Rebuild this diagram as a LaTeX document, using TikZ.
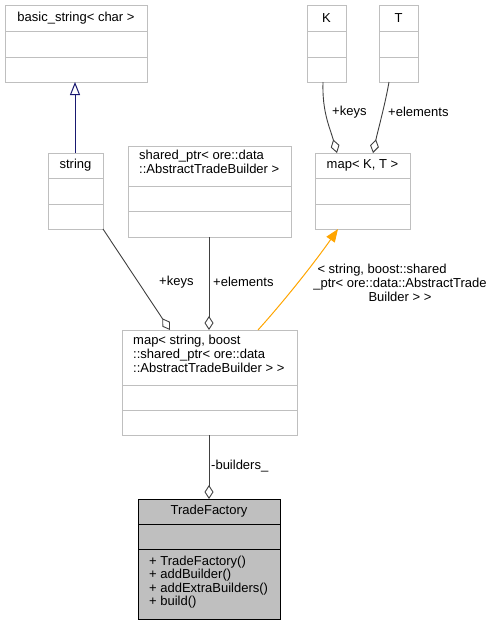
\documentclass[tikz,border=0pt]{standalone}
\usepackage{fontspec}
\setmainfont{Liberation Sans}
\usetikzlibrary{arrows.meta}
\definecolor{boxgray}{HTML}{BFBFBF}
\definecolor{edgegray}{HTML}{404040}
\definecolor{navy}{HTML}{191970}
\definecolor{orangeE}{HTML}{FFA500}
\tikzset{
  cls/.style={draw=boxgray, line width=1pt, fill=white, inner sep=0pt, anchor=north west},
  sep/.style={draw=boxgray, line width=1pt},
  txt/.style={inner sep=0pt, font=\fontsize{13}{14}\selectfont},
  agg/.style={draw=edgegray, line width=0.9pt, -{Diamond[open, length=14pt, width=9pt, line width=0.9pt]}},
  lbl/.style={inner sep=0pt, anchor=west, font=\fontsize{13}{14}\selectfont},
}
\begin{document}
\begin{tikzpicture}[x=1pt, y=-1pt]
\useasboundingbox (0,0) rectangle (493,625);
% basic_string
\node[cls, minimum width=142pt, minimum height=77pt] (bs) at (5,5) {};
\draw[sep] (5,31) -- (147,31) (5,57) -- (147,57);
\node[txt] (bst) at (76,18) {basic\_string< char >};
% K
\node[cls, minimum width=39pt, minimum height=77pt] (K) at (307,5) {};
\draw[sep] (307,31) -- (346,31) (307,57) -- (346,57);
\node[txt] (Kt) at (326.5,18) {K};
% T
\node[cls, minimum width=39pt, minimum height=77pt] (T) at (379,5) {};
\draw[sep] (379,31) -- (418,31) (379,57) -- (418,57);
\node[txt] (Tt) at (398.5,18) {T};
% map<K,T>
\node[cls, minimum width=95pt, minimum height=76pt] (mkt) at (315,153) {};
\draw[sep] (315,178) -- (410,178) (315,204) -- (410,204);
\node[txt] (mktt) at (362.5,165.5) {map< K, T >};
% string
\node[cls, minimum width=55pt, minimum height=76pt] (str) at (48,153) {};
\draw[sep] (48,178) -- (103,178) (48,204) -- (103,204);
\node[txt] (strt) at (75.5,165.5) {string};
% shared_ptr
\node[cls, minimum width=163pt, minimum height=91pt] (sp) at (128,146) {};
\draw[sep] (128,186) -- (291,186) (128,211) -- (291,211);
\node[txt, anchor=north west, align=left] (spt) at (139,150) {shared\_ptr< ore::data\\::AbstractTradeBuilder >};
% map<string,...>
\node[cls, minimum width=175pt, minimum height=105pt] (ms) at (122,330) {};
\draw[sep] (122,385) -- (297,385) (122,410) -- (297,410);
\node[txt, anchor=north west, align=left] (mst) at (133,335) {map< string, boost\\::shared\_ptr< ore::data\\::AbstractTradeBuilder > >};
% TradeFactory
\node[cls, draw=black, fill=boxgray, minimum width=142pt, minimum height=120pt] (tf) at (138,499) {};
\draw[draw=black, line width=1pt] (138,524) -- (280,524) (138,549) -- (280,549);
\node[txt] (tft) at (209,511.5) {TradeFactory};
\node[txt, anchor=north west, align=left, font=\fontsize{13}{13.3}\selectfont] (tfm) at (149,556) {+ TradeFactory()\\+ addBuilder()\\+ addExtraBuilders()\\+ build()};
% coordinates
\coordinate (strTop) at (75,153);
\coordinate (bsBot) at (75,82);
\coordinate (kBot) at (323,82);
\coordinate (tBot) at (389,82);
\coordinate (mktK) at (337,153);
\coordinate (mktT) at (373,153);
\coordinate (mktO) at (338,229);
\coordinate (strBR) at (103,229);
\coordinate (msK) at (170,330);
\coordinate (spBot) at (209,237);
\coordinate (msE) at (209,330);
\coordinate (msO) at (258,330);
\coordinate (msBot) at (209,435);
\coordinate (tfTop) at (209,499);
% edges
\draw[draw=navy, line width=0.9pt, -{Triangle[open, length=13pt, width=10pt, line width=1pt]}] (strTop) -- (bsBot);
\draw[agg] (kBot) .. controls (322,112) and (330,128) .. (mktK);
\draw[agg] (tBot) .. controls (385,105) and (378,130) .. (mktT);
\draw[agg] (strBR) -- (msK);
\draw[agg] (spBot) -- (msE);
\draw[agg] (msBot) -- (tfTop);
\draw[draw=orangeE, line width=1pt, -{Triangle[length=13pt, width=10pt]}] (msO) .. controls (285,300) and (315,262) .. (mktO);
% labels
\node[lbl] (l1) at (332,112) {+keys};
\node[lbl] (l2) at (388,112) {+elements};
\node[lbl] (l3) at (159,282) {+keys};
\node[lbl] (l4) at (213,282) {+elements};
\node[lbl] (l5) at (211,466) {-builders\_};
\node[txt, align=center] (l6) at (400,283) {< string, boost::shared\hspace*{36pt}\\\_ptr< ore::data::AbstractTrade\\Builder > >};
\end{tikzpicture}
\end{document}
